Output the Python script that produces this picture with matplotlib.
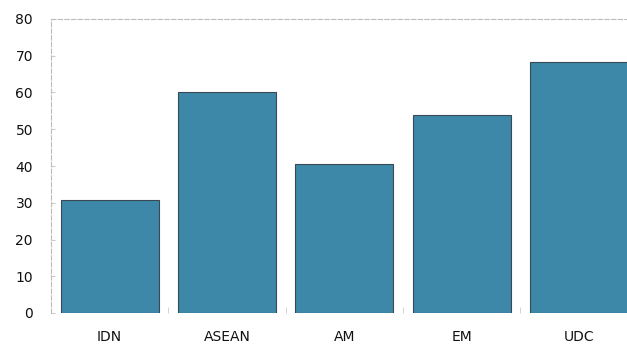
import matplotlib
matplotlib.use("Agg")
import matplotlib.pyplot as plt
import numpy as np

categories = ["IDN", "ASEAN", "AM", "EM", "UDC"]
values = [30.8, 60.0, 40.5, 53.9, 68.3]
y_ticks = [0, 10, 20, 30, 40, 50, 60, 70, 80]

fig = plt.figure(figsize=(6.27, 3.46), dpi=100)
ax = fig.add_axes([51 / 627, 1 - 313 / 346, 1 - 51 / 627, (313 - 19) / 346])

x = np.arange(len(categories))
ax.bar(x, values, width=0.835, color="#3d88a8", edgecolor="#3a4a55",
       linewidth=0.8, zorder=2)

ax.set_xlim(-0.5, 4.41)
ax.set_ylim(0, 80)
ax.set_yticks(y_ticks)
ax.set_yticklabels([str(v) for v in y_ticks], fontsize=10, color="#111111")
ax.set_xticks(x)
ax.set_xticklabels(categories, fontsize=10, color="#111111")

ax.tick_params(axis="y", direction="in", length=3, color="#cccccc", pad=13)
ax.tick_params(axis="x", length=0, pad=12)
ax.set_xticks(np.arange(len(categories) - 1) + 0.5, minor=True)
ax.tick_params(axis="x", which="minor", direction="in", length=4, color="#cccccc")

for side in ["top", "left"]:
    ax.spines[side].set_linestyle((0, (4, 2)))
    ax.spines[side].set_color("#bbbbbb")
    ax.spines[side].set_linewidth(0.8)
ax.spines["right"].set_visible(False)
ax.spines["bottom"].set_visible(False)

fig.savefig("out.png", dpi=100)
